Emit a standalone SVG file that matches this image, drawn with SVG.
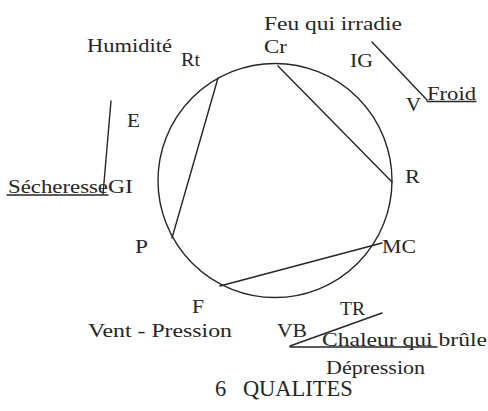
<svg xmlns="http://www.w3.org/2000/svg" width="488" height="411" viewBox="0 0 488 411">
<style>
text{font-family:"Liberation Serif","Times New Roman",serif;font-size:19px;fill:#262626}
.ln{stroke:#262626;stroke-width:1.4;fill:none;stroke-linecap:round}
</style>
<rect x="0" y="0" width="488" height="411" fill="#ffffff"/>
<circle id="cercle" cx="275" cy="180.5" r="117" class="ln"/>
<g id="connectors">
<line class="ln" x1="218" y1="78" x2="172" y2="238"/>
<line class="ln" x1="278" y1="66" x2="392" y2="182"/>
<line class="ln" x1="382" y1="243" x2="220" y2="286"/>
<line class="ln" x1="111" y1="101" x2="103" y2="194"/>
<line class="ln" x1="7" y1="195" x2="108" y2="195"/>
<line class="ln" x1="372" y1="42" x2="427" y2="100"/>
<line class="ln" x1="427" y1="101.5" x2="476" y2="101.5"/>
<line class="ln" x1="382" y1="313" x2="290" y2="346"/>
<line class="ln" x1="290" y1="347" x2="437" y2="347"/>
</g>
<g id="humidite"><text x="87" y="52" textLength="85" lengthAdjust="spacingAndGlyphs">Humidité</text></g>
<g id="Rt"><text x="181" y="65.5" textLength="19" lengthAdjust="spacingAndGlyphs">Rt</text></g>
<g id="Cr"><text x="264" y="53" textLength="23" lengthAdjust="spacingAndGlyphs">Cr</text></g>
<g id="feu"><text x="264" y="30" textLength="138" lengthAdjust="spacingAndGlyphs">Feu qui irradie</text></g>
<g id="IG"><text x="350" y="67" textLength="23" lengthAdjust="spacingAndGlyphs">IG</text></g>
<g id="V"><text x="406" y="111" textLength="15" lengthAdjust="spacingAndGlyphs">V</text></g>
<g id="froid"><text x="427" y="100" textLength="49" lengthAdjust="spacingAndGlyphs">Froid</text></g>
<g id="R"><text x="405" y="183" textLength="15" lengthAdjust="spacingAndGlyphs">R</text></g>
<g id="MC"><text x="382" y="253" textLength="34" lengthAdjust="spacingAndGlyphs">MC</text></g>
<g id="E"><text x="127" y="127" textLength="13" lengthAdjust="spacingAndGlyphs">E</text></g>
<g id="secheresse"><text x="8" y="193" textLength="100" lengthAdjust="spacingAndGlyphs">Sécheresse</text></g>
<g id="GI"><text x="108" y="193" textLength="25" lengthAdjust="spacingAndGlyphs">GI</text></g>
<g id="P"><text x="135" y="253" textLength="13" lengthAdjust="spacingAndGlyphs">P</text></g>
<g id="F"><text x="192" y="313" textLength="12" lengthAdjust="spacingAndGlyphs">F</text></g>
<g id="vent"><text x="88" y="337" textLength="144" lengthAdjust="spacingAndGlyphs">Vent - Pression</text></g>
<g id="TR"><text x="340" y="315" textLength="25" lengthAdjust="spacingAndGlyphs">TR</text></g>
<g id="VB"><text x="277" y="337" textLength="30" lengthAdjust="spacingAndGlyphs">VB</text></g>
<g id="chaleur"><text x="322" y="346" textLength="165" lengthAdjust="spacingAndGlyphs">Chaleur qui brûle</text></g>
<g id="depression"><text x="326" y="374" textLength="99" lengthAdjust="spacingAndGlyphs">Dépression</text></g>
<g id="titre"><text x="215" y="396" style="font-size:22.5px" word-spacing="11">6 QUALITES</text></g>
</svg>
